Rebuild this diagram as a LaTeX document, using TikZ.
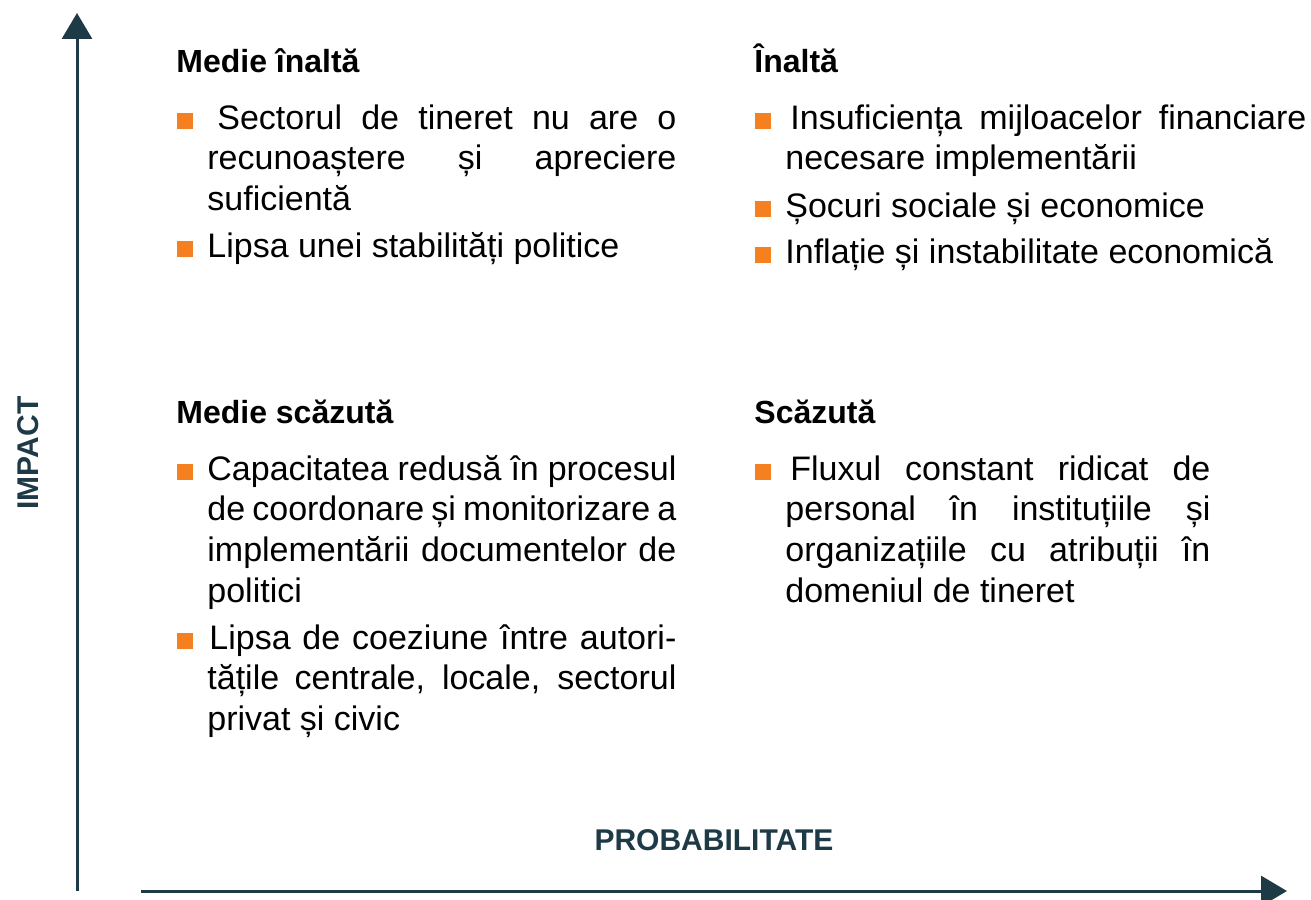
\documentclass[tikz,border=0pt]{standalone}
\usepackage{fontspec}
\setmainfont{Liberation Sans}
\usepackage{xcolor}
\usetikzlibrary{arrows.meta,positioning}

\definecolor{axisblue}{RGB}{31,58,71}
\definecolor{bulletorange}{RGB}{245,128,32}
\newcommand{\sq}{\llap{\textcolor{bulletorange}{\rule{8pt}{8pt}}\hspace{7pt}}}

\begin{document}
\begin{tikzpicture}[x=0.5pt,y=-0.5pt,
	head/.style={anchor=base west,inner sep=0pt,font=\fontsize{16}{20}\selectfont\bfseries},
	item/.style={anchor=base west,inner sep=0pt,align=justify,font=\fontsize{17}{20.4}\selectfont},
	axislabel/.style={anchor=base,inner sep=0pt,text=axisblue,font=\fontsize{15}{18}\selectfont\bfseries},
	axis/.style={draw=axisblue,line width=1.5pt,-{Triangle[length=13pt,width=15pt]}}]
	\useasboundingbox (0,0) rectangle (1311,899);
	
	% axes
	\coordinate (ybot) at (77,891);
	\coordinate (ytop) at (77,13);
	\coordinate (xleft) at (141,891);
	\coordinate (xright) at (1287,891);
	\draw[axis] (ybot) -- (ytop);
	\draw[axis] (xleft) -- (xright);
	\node[axislabel,rotate=90] (impact) at (38,453) {IMPACT};
	\node[axislabel] (prob) at (714,850) {PROBABILITATE};
	
	% headings
	\node[head] (himed) at (176,73) {Medie înaltă};
	\node[head] (hi) at (754,73) {Înaltă};
	\node[head] (lomed) at (176,423) {Medie scăzută};
	\node[head] (lo) at (754,423) {Scăzută};
	
	% items
	\node[item,text width=234.5pt] (himed1) at (207,129) {\sq\hspace{5pt}Sectorul de tineret nu are o\linebreak recunoaștere și apreciere\linebreak suficientă};
	\node[item,text width=234.5pt] (himed2) at (207,257) {\sq Lipsa unei stabilități politice};
	\node[item,text width=260.5pt] (hi1) at (785,129) {\sq\hspace{2.5pt}Insuficiența mijloacelor financiare\linebreak necesare implementării};
	\node[item,text width=260.5pt] (hi2) at (785,217) {\sq Șocuri sociale și economice};
	\node[item,text width=260.5pt] (hi3) at (785,263) {\sq Inflație și instabilitate economică};
	\node[item,text width=234.5pt] (lomed1) at (207,480) {\sq Capacitatea redusă în procesul\linebreak de coordonare și monitorizare a\linebreak implementării documentelor de\linebreak politici};
	\node[item,text width=234.5pt] (lomed2) at (207,649) {\sq\hspace{1pt}Lipsa de coeziune între autori-\linebreak tățile centrale, locale, sectorul\linebreak privat și civic};
	\node[item,text width=212.5pt] (lo1) at (785,480) {\sq\hspace{2.5pt}Fluxul constant ridicat de\linebreak personal în instituțiile și\linebreak organizațiile cu atribuții în\linebreak domeniul de tineret};
\end{tikzpicture}
\end{document}
